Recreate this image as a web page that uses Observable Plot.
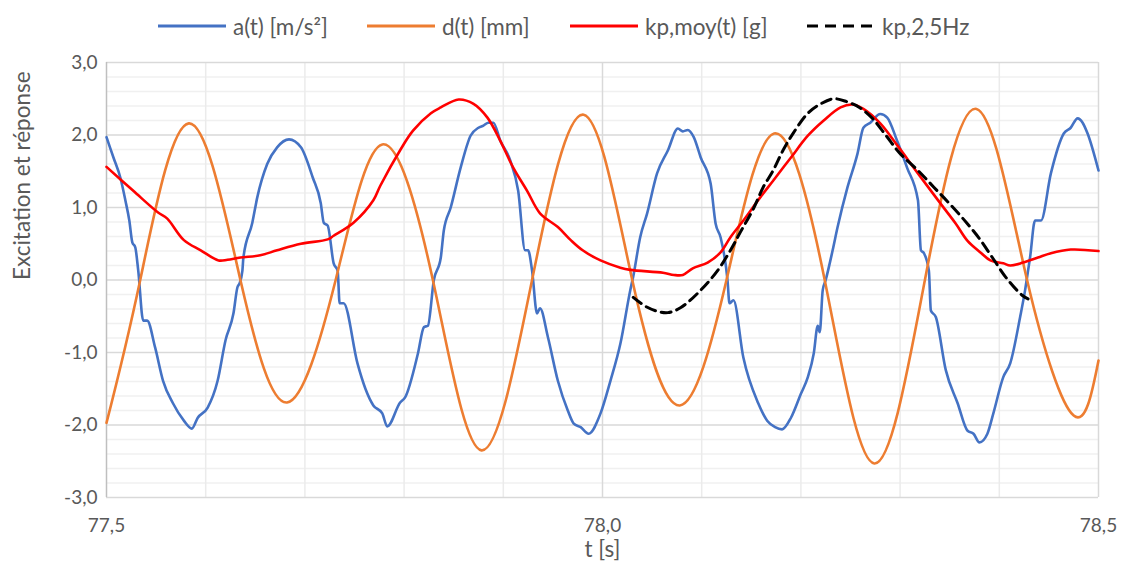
<!DOCTYPE html>
<html><head><meta charset="utf-8">
<script src="https://cdn.jsdelivr.net/npm/d3@7"></script>
<script src="https://cdn.jsdelivr.net/npm/@observablehq/plot@0.6"></script>
<style>
body{margin:0;background:#fff;font-family:Lato,sans-serif;}
#legend{position:relative;height:40px;width:1121px;}
.item{position:absolute;top:6px;height:40px;display:flex;align-items:center;font-size:22.5px;color:#595959;white-space:nowrap;}
.item svg{margin-right:7px;}
</style></head><body>
<div id="legend"></div>
<div id="chart"></div>
<script>
// Axis ticks
const yTicks = [-3, -2, -1, 0, 1, 2, 3];
const xTicks = [77.5, 78.0, 78.5];
const seriesNames = ["a(t) [m/s²]", "d(t) [mm]", "kp,moy(t) [g]", "kp,2,5Hz"];

// a(t) [m/s²]
const aT = [77.500,77.507,77.514,77.519,77.523,77.526,77.529,77.532,77.537,77.541,77.549,77.557,77.567,77.578,77.586,77.592,77.602,77.612,77.620,77.628,77.632,77.634,77.637,77.638,77.647,77.652,77.662,77.672,77.684,77.696,77.708,77.716,77.719,77.723,77.729,77.733,77.735,77.739,77.753,77.761,77.769,77.778,77.783,77.796,77.801,77.814,77.820,77.824,77.830,77.837,77.840,77.847,77.857,77.867,77.875,77.880,77.885,77.890,77.897,77.907,77.915,77.922,77.925,77.929,77.934,77.937,77.945,77.955,77.965,77.971,77.978,77.986,77.998,78.008,78.018,78.028,78.031,78.038,78.045,78.055,78.066,78.076,78.081,78.086,78.092,78.099,78.109,78.114,78.119,78.126,78.128,78.132,78.142,78.157,78.166,78.174,78.181,78.190,78.200,78.207,78.213,78.217,78.219,78.222,78.225,78.232,78.237,78.247,78.257,78.263,78.270,78.280,78.287,78.297,78.307,78.318,78.321,78.324,78.329,78.331,78.336,78.346,78.358,78.368,78.374,78.380,78.388,78.394,78.404,78.411,78.421,78.426,78.429,78.431,78.436,78.442,78.452,78.465,78.472,78.479,78.484,78.489,78.500];
const aV = [1.97,1.69,1.41,1.10,0.82,0.52,0.45,0.13,-0.56,-0.56,-0.93,-1.39,-1.70,-1.94,-2.05,-1.90,-1.76,-1.39,-0.83,-0.46,-0.10,-0.05,0.13,0.31,0.79,1.14,1.60,1.83,1.94,1.83,1.41,1.06,0.79,0.75,0.23,0.13,-0.32,-0.32,-1.15,-1.50,-1.73,-1.84,-2.02,-1.69,-1.62,-1.01,-0.65,-0.63,0.00,0.31,0.68,1.00,1.55,1.99,2.10,2.13,2.17,2.17,1.92,1.65,1.23,0.41,0.41,0.13,-0.46,-0.39,-0.79,-1.39,-1.80,-1.98,-2.03,-2.12,-1.84,-1.39,-0.88,-0.14,0.05,0.59,0.92,1.47,1.79,2.09,2.05,2.07,1.97,1.69,1.33,0.78,0.59,0.00,-0.32,-0.28,-1.07,-1.70,-1.94,-2.03,-2.06,-1.90,-1.57,-1.34,-1.01,-0.63,-0.72,-0.14,0.00,0.41,0.73,1.28,1.74,2.10,2.17,2.29,2.24,1.92,1.55,1.10,0.41,0.37,0.13,-0.42,-0.51,-1.24,-1.70,-2.08,-2.12,-2.24,-2.12,-1.84,-1.34,-1.15,-0.51,-0.14,0.13,0.31,0.82,0.82,1.47,2.02,2.10,2.23,2.17,2.02,1.51];

// d(t) [mm]
const dT = [77.500,77.534,77.583,77.635,77.682,77.731,77.778,77.829,77.878,77.929,77.981,78.030,78.078,78.125,78.173,78.224,78.274,78.325,78.377,78.428,78.475,78.500];
const dV = [-1.97,0.00,2.16,0.00,-1.69,0.00,1.87,0.00,-2.35,0.00,2.28,0.00,-1.73,0.00,2.02,0.00,-2.53,0.00,2.36,0.00,-1.87,-1.11];

// kp,moy(t) [g]
const kT = [77.500,77.527,77.552,77.561,77.578,77.595,77.613,77.622,77.635,77.655,77.672,77.696,77.723,77.729,77.749,77.769,77.776,77.796,77.809,77.827,77.837,77.855,77.870,77.884,77.897,77.910,77.924,77.937,77.955,77.968,77.980,77.998,78.018,78.028,78.061,78.072,78.081,78.091,78.106,78.119,78.129,78.142,78.159,78.172,78.190,78.207,78.223,78.240,78.252,78.263,78.280,78.297,78.318,78.341,78.356,78.368,78.381,78.391,78.404,78.411,78.424,78.439,78.452,78.472,78.500];
const kV = [1.56,1.23,0.93,0.85,0.55,0.41,0.27,0.28,0.31,0.34,0.41,0.50,0.56,0.61,0.79,1.10,1.30,1.79,2.06,2.30,2.38,2.49,2.43,2.24,1.92,1.55,1.23,0.92,0.73,0.55,0.41,0.27,0.17,0.14,0.10,0.07,0.07,0.16,0.24,0.38,0.59,0.82,1.14,1.37,1.69,1.99,2.20,2.38,2.42,2.36,2.16,1.86,1.47,1.05,0.78,0.54,0.38,0.27,0.23,0.20,0.24,0.31,0.37,0.42,0.40];

// kp,2,5Hz
const fT = [78.031,78.043,78.055,78.066,78.079,78.099,78.116,78.129,78.139,78.152,78.162,78.172,78.182,78.192,78.207,78.220,78.233,78.246,78.259,78.272,78.286,78.299,78.318,78.334,78.350,78.367,78.380,78.393,78.407,78.423,78.429];
const fV = [-0.24,-0.36,-0.43,-0.45,-0.38,-0.14,0.13,0.41,0.66,0.98,1.28,1.51,1.79,2.02,2.30,2.43,2.50,2.46,2.38,2.23,1.99,1.76,1.51,1.28,1.05,0.79,0.57,0.31,0.03,-0.21,-0.26];

const colors = ["#4472C4", "#ED7D31", "#FF0000", "#000000"];
const fmt = d => d.toFixed(1).replace(".", ",");
const rows = (t, v) => t.map((x, i) => ({t: x, v: v[i]}));

// grid positions
const yMinor = d3.range(-30, 31, 2).filter(k => k % 10 !== 0).map(k => k / 10);
const xMinor = d3.range(776, 785).map(k => k / 10).filter(x => x > 77.5 && x < 78.5 && Math.abs(x - 78) > 1e-9);

// Legend
const legendPos = [158, 367, 570, 807];
const legend = document.getElementById("legend");
seriesNames.forEach((name, i) => {
  const div = document.createElement("div");
  div.className = "item";
  div.style.left = legendPos[i] + "px";
  const dash = i === 3 ? 'stroke-dasharray="11,7"' : '';
  div.innerHTML = `<svg width="68" height="10"><line x1="0" x2="68" y1="5" y2="5" stroke="${colors[i]}" stroke-width="3" ${dash}/></svg><span>${name}</span>`;
  legend.appendChild(div);
});

const chart = Plot.plot({
  width: 1121,
  height: 525,
  marginLeft: 106,
  marginRight: 23,
  marginTop: 22,
  marginBottom: 68,
  style: {fontFamily: "Lato, sans-serif", fontSize: "19px", color: "#595959", background: "#fff"},
  x: {domain: [77.5, 78.5]},
  y: {domain: [-3, 3]},
  marks: [
    Plot.ruleY(yMinor, {stroke: "#f0f0f0", strokeWidth: 1.5}),
    Plot.ruleX(xMinor, {stroke: "#ebebeb", strokeWidth: 1.5}),
    Plot.ruleY(yTicks, {stroke: "#d9d9d9", strokeWidth: 1.5}),
    Plot.ruleX([78.0, 78.5], {stroke: "#d9d9d9", strokeWidth: 1.5}),
    Plot.ruleX([77.5], {stroke: "#bfbfbf", strokeWidth: 1.5}),
    Plot.axisY(yTicks, {tickSize: 0, tickPadding: 9, tickFormat: fmt, label: null, fill: "#595959"}),
    Plot.axisX(xTicks, {tickSize: 0, tickPadding: 21, tickFormat: fmt, label: null, fill: "#595959"}),
    Plot.text(["Excitation et réponse"], {frameAnchor: "left", dx: -84, rotate: -90, fontSize: 22.5, fill: "#595959"}),
    Plot.text(["t [s]"], {frameAnchor: "bottom", dy: 59, fontSize: 22.5, fill: "#595959"}),
    Plot.line(rows(aT, aV), {x: "t", y: "v", stroke: colors[0], strokeWidth: 2.6, curve: "monotone-x"}),
    Plot.line(rows(dT, dV), {x: "t", y: "v", stroke: colors[1], strokeWidth: 2.6, curve: "natural"}),
    Plot.line(rows(kT, kV), {x: "t", y: "v", stroke: colors[2], strokeWidth: 2.6, curve: "catmull-rom"}),
    Plot.line(rows(fT, fV), {x: "t", y: "v", stroke: colors[3], strokeWidth: 3, strokeDasharray: "10,6", curve: "catmull-rom"})
  ]
});
document.getElementById("chart").appendChild(chart);
</script>
</body></html>
